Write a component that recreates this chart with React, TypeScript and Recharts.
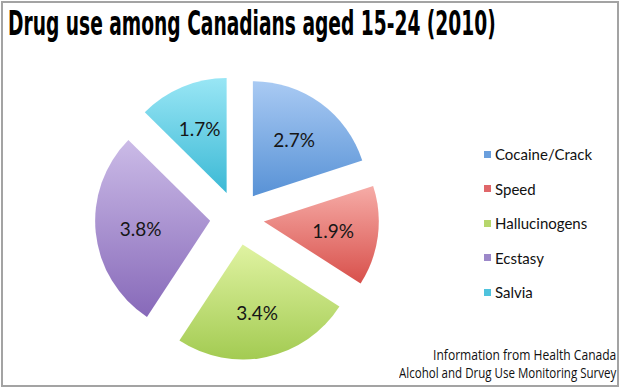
import React, { useLayoutEffect, useRef, useState } from "react"
import { PieChart, Pie, Sector, Legend } from "recharts"

const drugs = ["Cocaine/Crack", "Speed", "Hallucinogens", "Ecstasy", "Salvia"]
const usage = [2.7, 1.9, 3.4, 3.8, 1.7]
const topColors = ["#a9caf3", "#f6aca7", "#e0f3a2", "#cbbbe7", "#99e6f5"]
const bottomColors = ["#5892d6", "#d8504b", "#a3cb52", "#8769b9", "#3bb9d5"]
const legendColors = ["#6a9fdd", "#e0676a", "#b6d66c", "#9c88c9", "#4fc3dd"]

const data = drugs.map((name, i) => ({ name, value: usage[i] }))

const RAD = Math.PI / 180
const EXPLODE = 27
const LABEL_R = 70 // measured from the exploded slice's tip

const sliceIndex = (p: any) => drugs.indexOf(p?.payload?.name ?? p?.name)

function ExplodedSlice(props: any) {
  const { cx, cy, midAngle, innerRadius, outerRadius, startAngle, endAngle } = props
  const i = sliceIndex(props)
  const dx = EXPLODE * Math.cos(-midAngle * RAD)
  const dy = EXPLODE * Math.sin(-midAngle * RAD)
  return (
    <Sector
      cx={cx + dx}
      cy={cy + dy}
      innerRadius={innerRadius}
      outerRadius={outerRadius}
      startAngle={startAngle}
      endAngle={endAngle}
      fill={`url(#slice-grad-${i})`}
      stroke="none"
    />
  )
}

function SliceLabel(props: any) {
  const { cx, cy, midAngle, value } = props
  const r = EXPLODE + LABEL_R
  const x = cx + r * Math.cos(-midAngle * RAD)
  const y = cy + r * Math.sin(-midAngle * RAD)
  return (
    <text
      x={x}
      y={y}
      textAnchor="middle"
      dominantBaseline="central"
      fill="#161616"
      fontSize={19}
      fontFamily="Lato, 'Open Sans', sans-serif"
    >
      {value.toFixed(1)}%
    </text>
  )
}

function LegendList() {
  return (
    <div style={{ fontFamily: "Lato, 'Open Sans', sans-serif", fontSize: 15, color: "#111" }}>
      {drugs.map((name, i) => (
        <div key={name} style={{ height: 34.5, display: "flex", alignItems: "center" }}>
          <span
            style={{
              display: "inline-block",
              width: 7,
              height: 7,
              background: legendColors[i],
              marginRight: 4,
            }}
          />
          <span>{name}</span>
        </div>
      ))}
    </div>
  )
}

// squeezes a line of text horizontally to a given width (condensed fonts aren't installed)
function FitText({ text, width, origin, style }: { text: string; width: number; origin: "left" | "right"; style: React.CSSProperties }) {
  const ref = useRef<HTMLSpanElement>(null)
  const [scale, setScale] = useState(1)
  useLayoutEffect(() => {
    if (ref.current) setScale(width / ref.current.offsetWidth)
  }, [text, width])
  return (
    <span
      ref={ref}
      style={{
        display: "inline-block",
        whiteSpace: "nowrap",
        transform: `scaleX(${scale})`,
        transformOrigin: origin,
        ...style,
      }}
    >
      {text}
    </span>
  )
}

export default function App() {
  const footStyle: React.CSSProperties = {
    fontFamily: "'Open Sans', sans-serif",
    fontSize: 14.5,
    lineHeight: "18px",
    color: "#111",
  }
  return (
    <div style={{ position: "absolute", left: 0, top: 0, width: 620, height: 388, background: "#fff", overflow: "hidden" }}>
      <div
        style={{
          position: "absolute",
          left: 1,
          top: 1,
          width: 618,
          height: 386,
          boxSizing: "border-box",
          border: "2px solid #a3a3a3",
        }}
      />
      <PieChart width={620} height={388} style={{ position: "absolute", left: 0, top: 0 }}>
        <defs>
          {drugs.map((name, i) => (
            <linearGradient key={name} id={`slice-grad-${i}`} x1="0" y1="0" x2="0" y2="1">
              <stop offset="0%" stopColor={topColors[i]} />
              <stop offset="100%" stopColor={bottomColors[i]} />
            </linearGradient>
          ))}
        </defs>
        <Pie
          data={data}
          dataKey="value"
          nameKey="name"
          cx={232}
          cy={213}
          outerRadius={115}
          startAngle={90}
          endAngle={-270}
          stroke="none"
          shape={ExplodedSlice}
          label={SliceLabel}
          labelLine={false}
          isAnimationActive={false}
        />
        <Legend
          layout="vertical"
          content={() => <LegendList />}
          wrapperStyle={{ left: 484, top: 137, width: 130 }}
        />
      </PieChart>
      <div style={{ position: "absolute", left: 8, top: 3 }}>
        <FitText
          text="Drug use among Canadians aged 15-24 (2010)"
          width={488}
          origin="left"
          style={{
            fontFamily: "'DejaVu Sans Condensed', 'DejaVu Sans', sans-serif",
            fontWeight: "bold",
            fontSize: 34,
            lineHeight: "40px",
            color: "#000",
          }}
        />
      </div>
      <div style={{ position: "absolute", right: 4, top: 346, textAlign: "right" }}>
        <div>
          <FitText text="Information from Health Canada" width={183} origin="right" style={footStyle} />
        </div>
        <div>
          <FitText text="Alcohol and Drug Use Monitoring Survey" width={217} origin="right" style={footStyle} />
        </div>
      </div>
    </div>
  )
}
